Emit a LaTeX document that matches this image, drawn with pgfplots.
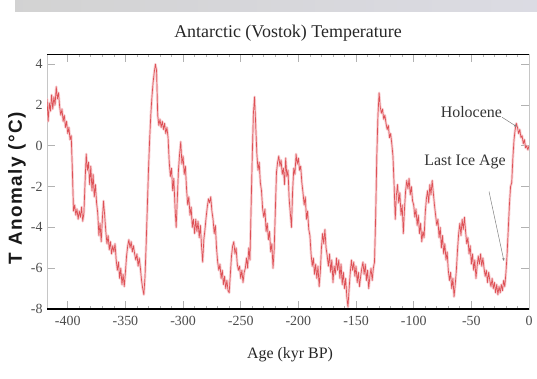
\documentclass[border=0pt]{standalone}
\usepackage{fontspec}
\setmainfont{Liberation Serif}
\newfontfamily\arial{Liberation Sans}
\usepackage{pgfplots}
\usepackage{pgfplotstable}
\usetikzlibrary{arrows.meta}
\pgfplotsset{compat=1.18}
\definecolor{curve}{RGB}{215,50,55}
\definecolor{halo}{RGB}{246,196,200}
\pgfplotstableread{
x y
-419 1.6
-418 2.3
-417 1.2
-416 2.1
-415 1.7
-414 2.5
-413 1.8
-412 2.4
-411 2.0
-410 2.9
-409 2.3
-408 2.6
-407 1.9
-406 1.5
-405 1.8
-404 1.2
-403 1.5
-402 0.9
-401 1.2
-400 0.6
-399 0.9
-398 0.3
-397 0.5
-396 -1.2
-395 -3.2
-394 -2.9
-393 -3.4
-392 -3.1
-391 -3.6
-390 -3.2
-389 -3.5
-388 -3.0
-387 -3.7
-386 -3.3
-385 -1.8
-384 -0.4
-383 -1.2
-382 -0.8
-381 -1.9
-380 -1.0
-379 -2.2
-378 -1.4
-377 -2.5
-376 -1.9
-375 -2.8
-374 -3.3
-373 -4.4
-372 -3.8
-371 -4.7
-370 -3.6
-369 -2.7
-368 -3.4
-367 -4.2
-366 -4.8
-365 -4.4
-364 -5.1
-363 -4.7
-362 -5.3
-361 -4.9
-360 -5.2
-359 -4.8
-358 -5.6
-357 -6.1
-356 -5.7
-355 -6.5
-354 -6.0
-353 -6.8
-352 -6.3
-351 -6.9
-350 -6.2
-349 -5.4
-348 -4.9
-347 -4.6
-346 -5.0
-345 -4.7
-344 -5.2
-343 -4.9
-342 -5.3
-341 -5.6
-340 -5.3
-339 -5.9
-338 -5.5
-337 -6.0
-336 -6.6
-335 -7.0
-334 -7.3
-333 -6.4
-332 -4.8
-331 -3.0
-330 -1.2
-329 0.3
-328 1.5
-327 2.4
-326 3.1
-325 3.6
-324 4.0
-323 3.7
-322 1.5
-321 1.0
-320 1.3
-319 0.9
-318 1.2
-317 0.8
-316 1.1
-315 0.6
-314 0.9
-313 0.4
-312 -0.8
-311 -1.5
-310 -1.1
-309 -2.2
-308 -1.6
-307 -3.0
-306 -4.0
-305 -2.6
-304 -1.2
-303 -0.4
-302 0.2
-301 -0.9
-300 -0.5
-299 -1.4
-298 -1.0
-297 -2.1
-296 -2.9
-295 -2.5
-294 -3.4
-293 -3.0
-292 -4.0
-291 -3.6
-290 -4.3
-289 -3.6
-288 -4.2
-287 -3.7
-286 -4.5
-285 -3.9
-284 -4.9
-283 -5.7
-282 -4.6
-281 -4.1
-280 -3.5
-279 -3.0
-278 -2.6
-277 -2.8
-276 -2.5
-275 -3.2
-274 -3.6
-273 -4.3
-272 -3.9
-271 -5.0
-270 -5.7
-269 -6.1
-268 -5.8
-267 -6.5
-266 -6.1
-265 -6.8
-264 -6.4
-263 -7.0
-262 -6.6
-261 -7.1
-260 -7.2
-259 -6.3
-258 -5.4
-257 -4.9
-256 -4.7
-255 -5.3
-254 -5.0
-253 -5.8
-252 -6.1
-251 -5.9
-250 -6.5
-249 -6.1
-248 -6.7
-247 -6.2
-246 -6.0
-245 -5.5
-244 -6.0
-243 -5.0
-242 -5.6
-241 -3.0
-240 -0.5
-239 1.6
-238 2.4
-237 1.0
-236 -0.4
-235 -1.2
-234 -0.8
-233 -1.8
-232 -2.2
-231 -3.1
-230 -3.5
-229 -3.1
-228 -4.2
-227 -3.8
-226 -4.6
-225 -4.2
-224 -5.2
-223 -4.8
-222 -6.0
-221 -5.1
-220 -3.2
-219 -1.3
-218 -0.8
-217 -0.5
-216 -1.0
-215 -0.7
-214 -1.4
-213 -1.1
-212 -1.9
-211 -0.6
-210 -1.5
-209 -1.2
-208 -2.6
-207 -3.3
-206 -4.0
-205 -2.2
-204 -1.1
-203 -1.4
-202 -0.4
-201 -0.9
-200 -0.6
-199 -1.2
-198 -1.0
-197 -1.8
-196 -2.3
-195 -2.9
-194 -2.5
-193 -3.6
-192 -3.2
-191 -4.1
-190 -4.4
-189 -5.3
-188 -5.9
-187 -5.5
-186 -6.3
-185 -5.8
-184 -6.5
-183 -5.9
-182 -6.9
-181 -6.2
-180 -5.0
-179 -4.3
-178 -4.8
-177 -4.1
-176 -5.0
-175 -5.4
-174 -5.9
-173 -5.3
-172 -6.2
-171 -5.6
-170 -6.7
-169 -5.9
-168 -6.3
-167 -5.5
-166 -6.1
-165 -5.6
-164 -6.5
-163 -5.8
-162 -6.8
-161 -6.2
-160 -7.0
-159 -6.5
-158 -7.4
-157 -7.9
-156 -7.0
-155 -6.2
-154 -5.6
-153 -6.1
-152 -5.7
-151 -6.4
-150 -5.9
-149 -6.7
-148 -6.2
-147 -6.9
-146 -6.4
-145 -6.0
-144 -5.7
-143 -6.3
-142 -5.8
-141 -6.6
-140 -6.1
-139 -7.0
-138 -6.4
-137 -6.0
-136 -6.6
-135 -6.0
-134 -5.7
-133 -3.5
-132 -0.5
-131 1.5
-130 2.6
-129 1.9
-128 1.6
-127 1.8
-126 1.3
-125 1.5
-124 1.1
-123 0.8
-122 1.0
-121 0.4
-120 0.6
-119 0.1
-118 -0.5
-117 -1.9
-116 -3.6
-115 -2.4
-114 -1.9
-113 -2.8
-112 -2.3
-111 -3.4
-110 -2.9
-109 -4.3
-108 -3.1
-107 -2.2
-106 -1.7
-105 -2.1
-104 -1.6
-103 -2.4
-102 -2.0
-101 -2.7
-100 -2.9
-99 -3.5
-98 -3.1
-97 -3.9
-96 -3.4
-95 -4.3
-94 -3.8
-93 -4.7
-92 -4.2
-91 -4.5
-90 -3.3
-89 -2.6
-88 -2.2
-87 -2.8
-86 -1.9
-85 -2.4
-84 -1.7
-83 -2.3
-82 -2.9
-81 -3.4
-80 -3.9
-79 -3.6
-78 -4.5
-77 -4.0
-76 -5.0
-75 -4.4
-74 -5.3
-73 -4.8
-72 -5.6
-71 -5.2
-70 -6.1
-69 -6.6
-68 -6.2
-67 -7.0
-66 -6.5
-65 -7.4
-64 -6.8
-63 -6.1
-62 -5.1
-61 -4.3
-60 -3.8
-59 -4.4
-58 -3.6
-57 -4.1
-56 -3.5
-55 -4.2
-54 -4.8
-53 -4.5
-52 -5.3
-51 -4.9
-50 -5.8
-49 -5.3
-48 -6.1
-47 -5.6
-46 -6.5
-45 -5.9
-44 -5.4
-43 -5.8
-42 -5.3
-41 -5.9
-40 -5.5
-39 -6.0
-38 -6.4
-37 -6.1
-36 -6.7
-35 -6.2
-34 -6.6
-33 -6.9
-32 -6.5
-31 -7.0
-30 -6.7
-29 -7.2
-28 -6.8
-27 -7.3
-26 -6.9
-25 -7.2
-24 -6.8
-23 -7.1
-22 -6.6
-21 -6.9
-20 -6.2
-19 -5.3
-18 -4.1
-17 -2.9
-16 -2.0
-15 -1.8
-14 -0.6
-13 0.3
-12 0.8
-11 1.1
-10 0.9
-9 0.6
-8 0.8
-7 0.4
-6 0.5
-5 0.1
-4 0.3
-3 -0.1
-2 0.0
-1 -0.2
0 0.0
}\vostok
\begin{document}
\begin{tikzpicture}[x=1bp,y=1bp]
\path[use as bounding box] (0,0) rectangle (537,378);
\fill[left color=gray!35, right color=blue!12!gray!25] (15,366) rectangle (537,378);
\coordinate (orig) at (47,69);
\begin{axis}[
  at={(orig)}, anchor=south west,
  width=482bp, height=255bp, scale only axis,
  xmin=-418, xmax=0, ymin=-8, ymax=4.5,
  xtick={-400,-350,...,0}, ytick={-8,-6,...,4},
  minor x tick num=4,
  tick align=inside,
  major tick length=8bp, minor tick length=3bp,
  tick style={gray!60, line width=0.7pt},
  axis line style={gray!45, line width=0.6pt},
  /pgf/number format/assume math mode=true,
  tick label style={font=\fontsize{14}{14}\selectfont, gray!60!black},
  xticklabel style={yshift=-4bp},
  yticklabel style={xshift=-1bp},
  clip=true,
]
\addplot[halo, line width=2.6pt, line join=round, opacity=0.8] table[x=x,y=y] {\vostok};
\addplot[curve, line width=0.7pt, line join=round, opacity=0.8] table[x=x,y=y] {\vostok};
\draw[black, line width=1.3pt] (rel axis cs:0,0) -- (rel axis cs:1,0);
\draw[black, line width=1.3pt] (rel axis cs:0,1) -- (rel axis cs:1,1);
\node[font=\fontsize{16}{16}\selectfont, gray!40!black] at (axis cs:-50,1.66) {Holocene};
\draw[gray, line width=0.5pt, -{Latex[length=3bp,width=2.5bp]}] (axis cs:-23.4,1.4) -- (axis cs:-10.4,0.93);
\node[font=\fontsize{16}{16}\selectfont, gray!40!black] at (axis cs:-55.5,-0.78) {Last Ice Age};
\draw[gray, line width=0.5pt, -{Latex[length=3bp,width=2.5bp]}] (axis cs:-34.7,-2.24) -- (axis cs:-21.7,-5.66);
\end{axis}
\node[font=\fontsize{18}{18}\selectfont, gray!30!black] at (288,345) {Antarctic (Vostok) Temperature};
\node[font=\fontsize{16}{16}\selectfont, gray!30!black] at (290,23) {Age (kyr BP)};
\node[font=\arial\bfseries\fontsize{19}{19}\selectfont\addfontfeature{LetterSpace=8}, rotate=90, gray!20!black] at (17,190) {T Anomaly (°C)};
\end{tikzpicture}
\end{document}
